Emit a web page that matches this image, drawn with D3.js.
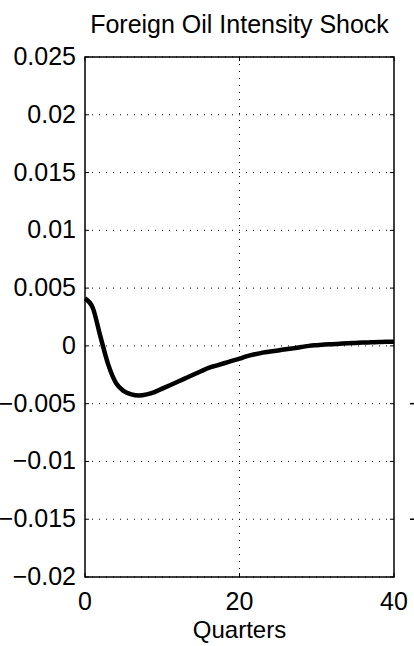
<!DOCTYPE html>
<html>
<head>
<meta charset="UTF-8">
<script src="https://d3js.org/d3.v7.min.js"></script>
<style>
  body { margin: 0; background: #fff; }
  svg { font-family: 'Liberation Sans', Arial, sans-serif; }
</style>
</head>
<body>
<div id="chart"></div>
<script>
  const quarters = d3.range(0, 41);
  const response = [0.0041, 0.0033, 0.0008, -0.0016, -0.0032, -0.0039, -0.0042, -0.0043, -0.0042, -0.0040,
    -0.0037, -0.0034, -0.0031, -0.0028, -0.0025, -0.0022, -0.0019, -0.0017, -0.0015, -0.0013,
    -0.0011, -0.00088, -0.00072, -0.00058, -0.00048, -0.00039, -0.00029, -0.0002, -0.0001, 0.0000,
    0.00006, 0.00011, 0.00015, 0.00019, 0.00023, 0.00026, 0.00029, 0.00031, 0.00033, 0.00035, 0.00036];
  const yTicks = [0.025, 0.02, 0.015, 0.01, 0.005, 0, -0.005, -0.01, -0.015, -0.02];
  const yLabels = ["0.025", "0.02", "0.015", "0.01", "0.005", "0", "\u22120.005", "\u22120.01", "\u22120.015", "\u22120.02"];
  const xTicks = [0, 20, 40];

  const svg = d3.select("#chart").append("svg").attr("width", 414).attr("height", 646);
  const x = d3.scaleLinear().domain([0, 40]).range([85, 394]);
  const y = d3.scaleLinear().domain([-0.02, 0.025]).range([577, 57]);

  // dotted grid
  svg.append("g").selectAll("line.h").data(yTicks).enter().append("line")
    .attr("x1", x(0)).attr("x2", x(40)).attr("y1", d => y(d)).attr("y2", d => y(d))
    .attr("stroke", "#000").attr("stroke-width", 1).attr("stroke-dasharray", "1,6");
  svg.append("line").attr("x1", x(20)).attr("x2", x(20)).attr("y1", y(0.025)).attr("y2", y(-0.02))
    .attr("stroke", "#000").attr("stroke-width", 1).attr("stroke-dasharray", "1,6");

  // ticks on box
  yTicks.forEach(t => {
    svg.append("line").attr("x1", x(0)).attr("x2", x(0) + 4).attr("y1", y(t)).attr("y2", y(t)).attr("stroke", "#000");
    svg.append("line").attr("x1", x(40) - 4).attr("x2", x(40)).attr("y1", y(t)).attr("y2", y(t)).attr("stroke", "#000");
  });
  xTicks.forEach(t => {
    svg.append("line").attr("x1", x(t)).attr("x2", x(t)).attr("y1", y(-0.02)).attr("y2", y(-0.02) - 4).attr("stroke", "#000");
    svg.append("line").attr("x1", x(t)).attr("x2", x(t)).attr("y1", y(0.025)).attr("y2", y(0.025) + 4).attr("stroke", "#000");
  });

  svg.append("rect").attr("x", x(0)).attr("y", y(0.025)).attr("width", x(40) - x(0)).attr("height", y(-0.02) - y(0.025))
    .attr("fill", "none").attr("stroke", "#000").attr("stroke-width", 1.5);

  // labels
  svg.append("g").selectAll("text").data(yTicks).enter().append("text")
    .attr("x", x(0) - 9).attr("y", d => y(d) + 8).attr("text-anchor", "end").attr("font-size", 25)
    .text((d, i) => yLabels[i]);
  svg.append("g").selectAll("text").data(xTicks).enter().append("text")
    .attr("x", d => x(d)).attr("y", y(-0.02) + 33).attr("text-anchor", "middle").attr("font-size", 25)
    .text(d => d);
  svg.append("text").attr("x", x(20)).attr("y", 638).attr("text-anchor", "middle").attr("font-size", 24).text("Quarters");
  svg.append("text").attr("x", x(20)).attr("y", 33).attr("text-anchor", "middle").attr("font-size", 25).text("Foreign Oil Intensity Shock");

  // fragments of the neighbouring panel
  [-0.005, -0.015].forEach(t => {
    svg.append("line").attr("x1", 410).attr("x2", 414).attr("y1", y(t)).attr("y2", y(t)).attr("stroke", "#000").attr("stroke-width", 1.5);
  });

  const line = d3.line().x((d, i) => x(quarters[i])).y(d => y(d)).curve(d3.curveMonotoneX);
  svg.append("path").datum(response).attr("d", line)
    .attr("fill", "none").attr("stroke", "#000").attr("stroke-width", 4.5).attr("stroke-linejoin", "round");
</script>
</body>
</html>
